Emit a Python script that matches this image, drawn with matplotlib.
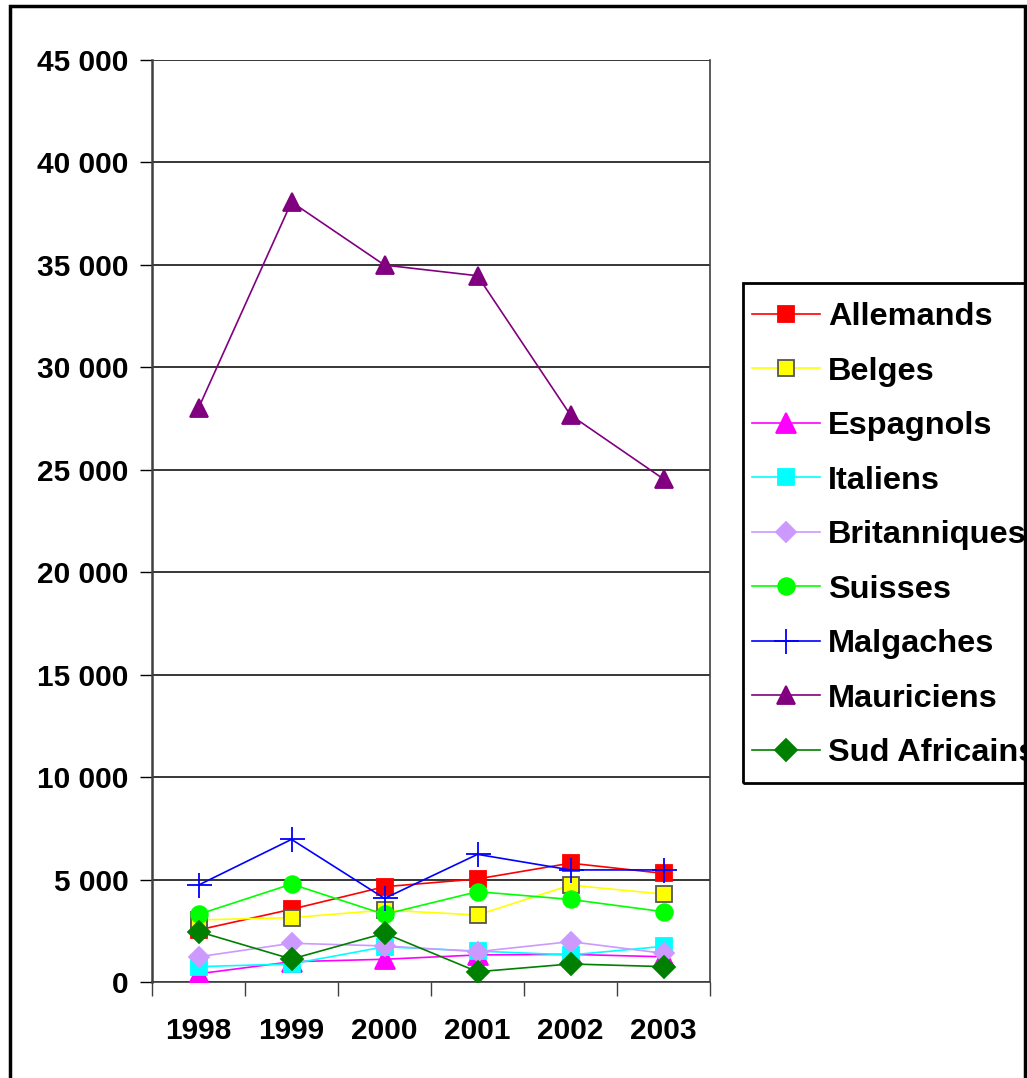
import numpy as np
import matplotlib.pyplot as plt
from matplotlib.patches import Rectangle
from matplotlib.ticker import FuncFormatter

plt.rcParams['font.family'] = ['Liberation Sans', 'DejaVu Sans']
plt.rcParams['font.weight'] = 'bold'

# --- data ---
years = ['1998', '1999', '2000', '2001', '2002', '2003']
allemands = [2540, 3550, 4650, 5030, 5800, 5300]
belges = [3030, 3140, 3510, 3270, 4730, 4290]
espagnols = [400, 990, 1110, 1320, 1350, 1230]
italiens = [750, 880, 1720, 1510, 1320, 1740]
britanniques = [1230, 1890, 1760, 1480, 1970, 1400]
suisses = [3300, 4780, 3300, 4410, 4030, 3430]
malgaches = [4730, 6960, 4080, 6230, 5470, 5470]
mauriciens = [28010, 38070, 34990, 34470, 27670, 24550]
sud_africains = [2460, 1120, 2380, 500, 880, 750]

series = [
    ('Allemands', allemands, '#ff0000', 's', '#ff0000', 12),
    ('Belges', belges, '#ffff00', 's', '#555555', 12),
    ('Espagnols', espagnols, '#ff00ff', '^', '#ff00ff', 14),
    ('Italiens', italiens, '#00ffff', 's', '#00ffff', 12),
    ('Britanniques', britanniques, '#cc99ff', 'D', '#cc99ff', 10),
    ('Suisses', suisses, '#00ff00', 'o', '#00ff00', 12),
    ('Malgaches', malgaches, '#0000ff', '+', '#0000ff', 18),
    ('Mauriciens', mauriciens, '#800080', '^', '#800080', 13),
    ('Sud Africains', sud_africains, '#008000', 'D', '#008000', 11),
]

fig = plt.figure(figsize=(10.27, 10.78), dpi=100)
ax = fig.add_axes([152 / 1027, 1 - 982 / 1078, 558 / 1027, 922 / 1078])

x = np.arange(len(years))
for name, vals, col, mk, edge, ms in series:
    ax.plot(x, vals, color=col, lw=1.2, marker=mk, markersize=ms,
            markerfacecolor=col, markeredgecolor=edge, markeredgewidth=1.3,
            label=name, zorder=3)

ax.set_xlim(-0.5, 5.5)
ax.set_ylim(0, 45000)
ax.set_yticks(np.arange(0, 45001, 5000))
ax.yaxis.set_major_formatter(FuncFormatter(lambda v, p: f'{int(v):,}'.replace(',', ' ')))
ax.yaxis.grid(True, color='black', lw=1.1, zorder=1)
ax.set_axisbelow(True)

ax.set_xticks(x)
ax.set_xticklabels(years)
ax.set_xticks(np.arange(-0.5, 6, 1), minor=True)
ax.tick_params(axis='x', which='major', length=0, pad=25, labelsize=21.5)
ax.tick_params(axis='x', which='minor', length=10, width=1, direction='out', color='#404040')
ax.tick_params(axis='y', length=9, width=1, direction='out', pad=8, labelsize=21.5)
for lab in ax.get_xticklabels() + ax.get_yticklabels():
    lab.set_fontweight('bold')

for s in ax.spines.values():
    s.set_color('#404040')
    s.set_linewidth(1.2)
ax.spines['left'].set_linewidth(1.8)
ax.spines['top'].set_visible(False)

# legend entries without frame, frame drawn as its own box
leg = fig.legend(loc='upper left', bbox_to_anchor=(752 / 1027, 1 - 302 / 1078),
                 borderaxespad=0, frameon=False,
                 handlelength=2.1, handletextpad=0.25, labelspacing=0.755,
                 borderpad=0, prop={'weight': 'bold', 'size': 23.4})
fig.patches.append(Rectangle((743 / 1027, 1 - 783 / 1078), 300 / 1027, 500 / 1078,
                             transform=fig.transFigure, fill=False,
                             edgecolor='black', lw=2, zorder=5))

fig.patches.append(Rectangle((10 / 1027, -0.01), 1015 / 1027, 1 - 6 / 1078 + 0.01,
                             transform=fig.transFigure, fill=False,
                             edgecolor='black', lw=2.5, zorder=0))

fig.savefig('out.png', dpi=100)
